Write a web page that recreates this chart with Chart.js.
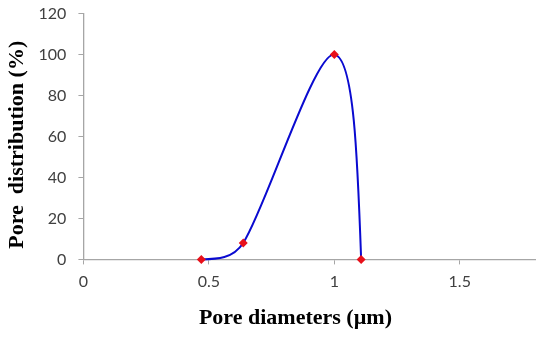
<!DOCTYPE html>
<html>
<head>
<meta charset="utf-8">
<script src="https://cdn.jsdelivr.net/npm/chart.js@4"></script>
<style>
  html, body { margin: 0; padding: 0; background: #fff; }
  #wrap { width: 550px; height: 341px; }
</style>
</head>
<body>
<div id="wrap"><canvas id="poreChart"></canvas></div>
<script>
// values
const diameters = [0.47, 0.637, 1.0, 1.107];
const distribution = [0, 8, 100, 0];
const xTickStep = 0.5;
const yTickStep = 20;

const points = diameters.map((d, i) => ({ x: d, y: distribution[i] }));

const axisGrey = '#a6a6a6';
const tickFont = { family: 'Lato', size: 16 };
const titleFont = { family: 'Liberation Serif', size: 22, weight: 'bold' };

// spreadsheet-style smoothing: tangent = (next - prev) / 6, handles capped
// against their own segment; end handles aim at the neighbour's handle
const spreadsheetSmooth = {
    id: 'spreadsheetSmooth',
    beforeDatasetsDraw(chart) {
        chart.getSortedVisibleDatasetMetas().forEach(meta => {
            const line = meta.dataset;
            if (!line) return;
            line.updateControlPoints(chart.chartArea, 'x');
            const pts = meta.data;
            const n = pts.length;
            for (let i = 1; i < n - 1; i++) {
                const p = pts[i], prev = pts[i - 1], next = pts[i + 1];
                const dx = (next.x - prev.x) / 6;
                const dy = (next.y - prev.y) / 6;
                const len = Math.hypot(dx, dy) || 1;
                const kPrev = Math.min(1, 0.42 * Math.hypot(p.x - prev.x, p.y - prev.y) / len);
                const kNext = Math.min(1, 0.42 * Math.hypot(next.x - p.x, next.y - p.y) / len);
                p.cp1x = p.x - dx * kPrev; p.cp1y = p.y - dy * kPrev;
                p.cp2x = p.x + dx * kNext; p.cp2y = p.y + dy * kNext;
            }
            const first = pts[0], second = pts[1];
            first.cp2x = first.x + (second.cp1x - first.x) / 2;
            first.cp2y = first.y + (second.cp1y - first.y) / 2;
            const last = pts[n - 1], beforeLast = pts[n - 2];
            last.cp1x = last.x + (beforeLast.cp2x - last.x) / 2;
            last.cp1y = last.y + (beforeLast.cp2y - last.y) / 2;
        });
    }
};

new Chart(document.getElementById('poreChart').getContext('2d'), {
    type: 'scatter',
    data: {
        datasets: [{
            data: points,
            showLine: true,
            borderColor: '#0a0ad0',
            borderWidth: 2,
            tension: 0.4,
            clip: false,
            pointStyle: 'rectRot',
            pointRadius: 4.5,
            pointBackgroundColor: '#e8101a',
            pointBorderColor: '#e8101a',
            pointBorderWidth: 0
        }]
    },
    options: {
        responsive: true,
        maintainAspectRatio: false,
        animation: false,
        layout: { padding: { left: 0, right: 15, top: 0, bottom: 5 } },
        plugins: { legend: { display: false }, tooltip: { enabled: false } },
        scales: {
            x: {
                type: 'linear',
                min: 0,
                max: 1.8,
                border: { color: axisGrey, width: 1.3 },
                grid: { drawOnChartArea: false, drawTicks: true, tickLength: 5, color: axisGrey },
                ticks: {
                    stepSize: xTickStep, includeBounds: false, color: '#404040', font: tickFont, padding: 8,
                    callback: v => String(v)
                },
                title: { display: true, text: 'Pore diameters (µm)\u00a0\u00a0\u00a0\u00a0\u00a0', color: '#000', font: titleFont, padding: { top: 6 } }
            },
            y: {
                min: 0,
                max: 120,
                border: { color: axisGrey, width: 1.3 },
                grid: { drawOnChartArea: false, drawTicks: true, tickLength: 5, color: axisGrey },
                ticks: { stepSize: yTickStep, color: '#404040', font: tickFont, padding: 4, callback: v => v + '\u00a0\u00a0' },
                title: { display: true, text: 'Pore  distribution (%)\u00a0\u00a0\u00a0', color: '#000', font: titleFont, padding: { top: 4, bottom: 4 } }
            }
        }
    },
    plugins: [spreadsheetSmooth]
});
</script>
</body>
</html>
